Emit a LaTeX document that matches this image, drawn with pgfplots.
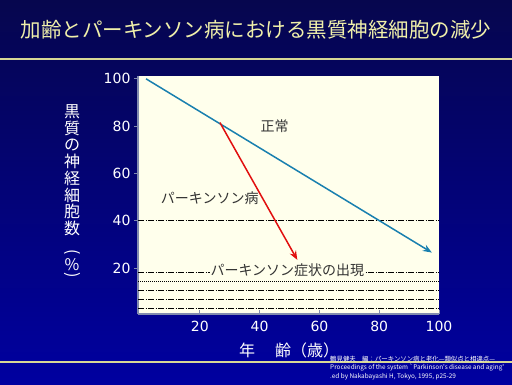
\documentclass[border=0pt]{standalone}
\usepackage{fontspec}
\usepackage{pgfplots}
\pgfplotsset{compat=1.18}
\usetikzlibrary{arrows.meta}
\setmainfont{DejaVu Sans}
\newfontfamily\cjk{Noto Sans CJK JP}
\definecolor{bgtop}{RGB}{6,6,78}
\definecolor{bgbot}{RGB}{0,0,160}
\definecolor{titlecol}{RGB}{240,240,170}
\definecolor{rulecol}{RGB}{215,215,150}
\definecolor{plotbg}{RGB}{255,255,236}
\definecolor{normalc}{RGB}{25,128,175}
\definecolor{pdc}{RGB}{225,15,15}
\definecolor{axcol}{RGB}{130,140,175}
\begin{document}
\begin{tikzpicture}
\clip (0pt,0pt) rectangle (512pt,384pt);
\shade[top color=bgtop, bottom color=bgbot] (0pt,0pt) rectangle (512pt,384pt);
\fill[rulecol] (0pt,324.5pt) rectangle (512pt,326.5pt);
\fill[rulecol] (0pt,21pt) rectangle (512pt,23pt);
\node[text=titlecol, font=\cjk\fontsize{20.5}{21}\selectfont] at (256pt,354pt) {加齢とパーキンソン病における黒質神経細胞の減少};
\begin{axis}[
  at={(138pt,70pt)}, anchor=south west,
  scale only axis, width=301pt, height=238pt,
  xmin=-0.7, xmax=100, ymin=0.5, ymax=101.2,
  axis background/.style={fill=plotbg},
  axis lines*=left,
  axis line style={draw=axcol, line width=1.2pt},
  xtick={20,40,60,80,100}, ytick={20,40,60,80,100},
  tick style={draw=axcol, line width=0.8pt},
  tick align=outside, major tick length=4pt,
  every x tick/.append style={yshift=4pt},
  ticklabel style={font=\fontsize{14}{14}\selectfont, text=white},
  /pgf/number format/assume math mode=true,
  clip=false,
]
\addplot[black, line width=0.7pt, dash pattern=on 6pt off 1.5pt on 1pt off 1.5pt] coordinates {(-0.7,40) (100,40)};
\addplot[black, line width=0.7pt, dash pattern=on 6pt off 1.5pt on 1pt off 1.5pt] coordinates {(-0.7,18.3) (100,18.3)};
\addplot[black, line width=0.7pt, dash pattern=on 1pt off 1pt] coordinates {(-0.7,14.4) (100,14.4)};
\addplot[black, line width=0.7pt, dash pattern=on 6pt off 1.5pt on 1pt off 1.5pt] coordinates {(-0.7,10.7) (100,10.7)};
\addplot[black, line width=0.7pt, dash pattern=on 6pt off 1.5pt on 1pt off 1.5pt] coordinates {(-0.7,6.5) (100,6.5)};
\addplot[black, line width=0.7pt, dash pattern=on 6pt off 1.5pt on 1pt off 1.5pt] coordinates {(-0.7,3) (100,3)};
\addplot[normalc, line width=1.5pt, -{Stealth[length=9pt,width=7pt]}] coordinates {(2,100) (97.6,26.5)};
\addplot[pdc, line width=1.5pt, -{Stealth[length=9pt,width=7pt]}] coordinates {(26.7,81.5) (52.6,23.4)};
\node[font=\cjk\fontsize{14}{14}\selectfont, text=black!80] at (axis cs:45,80) {正常};
\node[font=\cjk\fontsize{14}{14}\selectfont, text=black!80] at (axis cs:23.3,49.6) {パーキンソン病};
\node[font=\cjk\fontsize{14}{14}\selectfont, text=black!80, fill=plotbg, inner sep=0.5pt] at (axis cs:49.3,19.2) {パーキンソン症状の出現};
\end{axis}
\begin{scope}[every node/.style={text=white, font=\cjk\fontsize{16}{16}\selectfont}]
\node at (72pt,272.3pt) {黒};
\node at (72pt,255.7pt) {質};
\node at (72pt,239pt) {の};
\node at (72pt,222.3pt) {神};
\node at (72pt,205.7pt) {経};
\node at (72pt,189pt) {細};
\node at (72pt,172.3pt) {胞};
\node at (72pt,155.7pt) {数};
\node at (72pt,131pt) {\rotatebox[origin=c]{-90}{(}};
\node at (72pt,119pt) {\%};
\node at (72pt,107.3pt) {\rotatebox[origin=c]{-90}{)}};
\node at (289pt,34pt) {年\hspace{4pt}　齢（歳）};
\end{scope}
\begin{scope}[every node/.style={text=white, anchor=west, inner sep=0pt, font=\cjk\fontsize{6.4}{7}\selectfont}]
\node at (330pt,25pt) {鶴見健夫　編：パーキンソン病と老化—類似点と相違点—};
\node at (330pt,16pt) {Proceedings of the system `Parkinson's disease and aging'};
\node at (330pt,7pt) {.ed by Nakabayashi H,\ Tokyo,\ 1995,\ p25-29};
\end{scope}
\end{tikzpicture}
\end{document}
